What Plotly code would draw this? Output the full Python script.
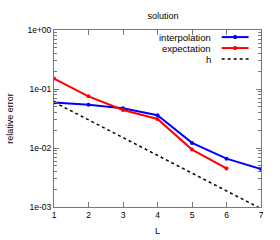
import plotly.graph_objects as go

L = [1, 2, 3, 4, 5, 6, 7]
interpolation = [0.059, 0.054, 0.047, 0.036, 0.0122, 0.0066, 0.0044]
L_exp = [1, 2, 3, 4, 5, 6]
expectation = [0.15, 0.075, 0.044, 0.031, 0.0094, 0.0045]
h = [0.06, 0.03, 0.015, 0.0075, 0.00375, 0.001875, 0.0009375]
y_ticks = [1e-3, 1e-2, 1e-1, 1e0]
y_ticklabels = ["1e-03", "1e-02", "1e-01", "1e+00"]
legend_names = ["interpolation", "expectation", "h"]

FONT = "Liberation Sans"
AX = "#777777"
fig = go.Figure()
fig.add_trace(go.Scatter(x=L, y=interpolation, mode="lines+markers",
                         line=dict(color="#0000ff", width=2),
                         marker=dict(size=4, color="#0000ff"), showlegend=False))
fig.add_trace(go.Scatter(x=L_exp, y=expectation, mode="lines+markers",
                         line=dict(color="#ff0000", width=2),
                         marker=dict(size=4, color="#ff0000"), showlegend=False))
fig.add_trace(go.Scatter(x=L, y=h, mode="lines",
                         line=dict(color="black", width=1.5, dash="dot"),
                         showlegend=False))

# gnuplot-style legend: text on the left, sample on the right
rows = [0.960, 0.898, 0.836]
styles = [("#0000ff", "solid", 2, True), ("#ff0000", "solid", 2, True), ("black", "dot", 1.5, False)]
for name, yy, (col, dash, w, mk) in zip(legend_names, rows, styles):
    fig.add_annotation(x=0.77, y=yy, xref="paper", yref="paper", text=name,
                       showarrow=False, xanchor="right", yanchor="middle",
                       font=dict(family=FONT, size=9.5, color="black"))
    fig.add_shape(type="line", xref="paper", yref="paper", x0=0.81, x1=0.94, y0=yy, y1=yy,
                  line=dict(color=col, width=w, dash=dash))
    if mk:
        fig.add_shape(type="rect", xref="paper", yref="paper", x0=0.868, x1=0.882,
                      y0=yy - 0.011, y1=yy + 0.011, fillcolor=col, line=dict(width=0))

fig.update_layout(
    width=280, height=240,
    margin=dict(l=54, r=19, t=30, b=33),
    paper_bgcolor="white", plot_bgcolor="white",
    title=dict(text="solution", x=0.582, xanchor="center", y=0.935, yanchor="middle",
               font=dict(family=FONT, size=9, color="black"), automargin=False),
    font=dict(family=FONT, size=9, color="black"),
)
fig.update_xaxes(range=[1, 7], tickvals=L, ticks="inside", ticklen=5, tickcolor=AX,
                 showline=True, linecolor=AX, linewidth=1, mirror="allticks",
                 showgrid=False, zeroline=False, automargin=False,
                 title=dict(text="L", font=dict(family=FONT, size=9, color="black"), standoff=8),
                 tickfont=dict(family=FONT, size=8.5, color="black"))
fig.update_yaxes(type="log", range=[-3, 0], tickvals=y_ticks, ticktext=y_ticklabels,
                 ticks="inside", ticklen=5, tickcolor=AX,
                 showline=True, linecolor=AX, linewidth=1, mirror="allticks",
                 showgrid=False, zeroline=False, automargin=False,
                 minor=dict(ticks="inside", ticklen=3, tickcolor=AX, dtick="D1", showgrid=False),
                 title=dict(text="relative error", font=dict(family=FONT, size=9, color="black"), standoff=12),
                 tickfont=dict(family=FONT, size=8.5, color="black"))

fig.write_html("out.html", config={"displayModeBar": False},
               post_script="document.body.style.margin='0';document.body.style.overflow='hidden';")
